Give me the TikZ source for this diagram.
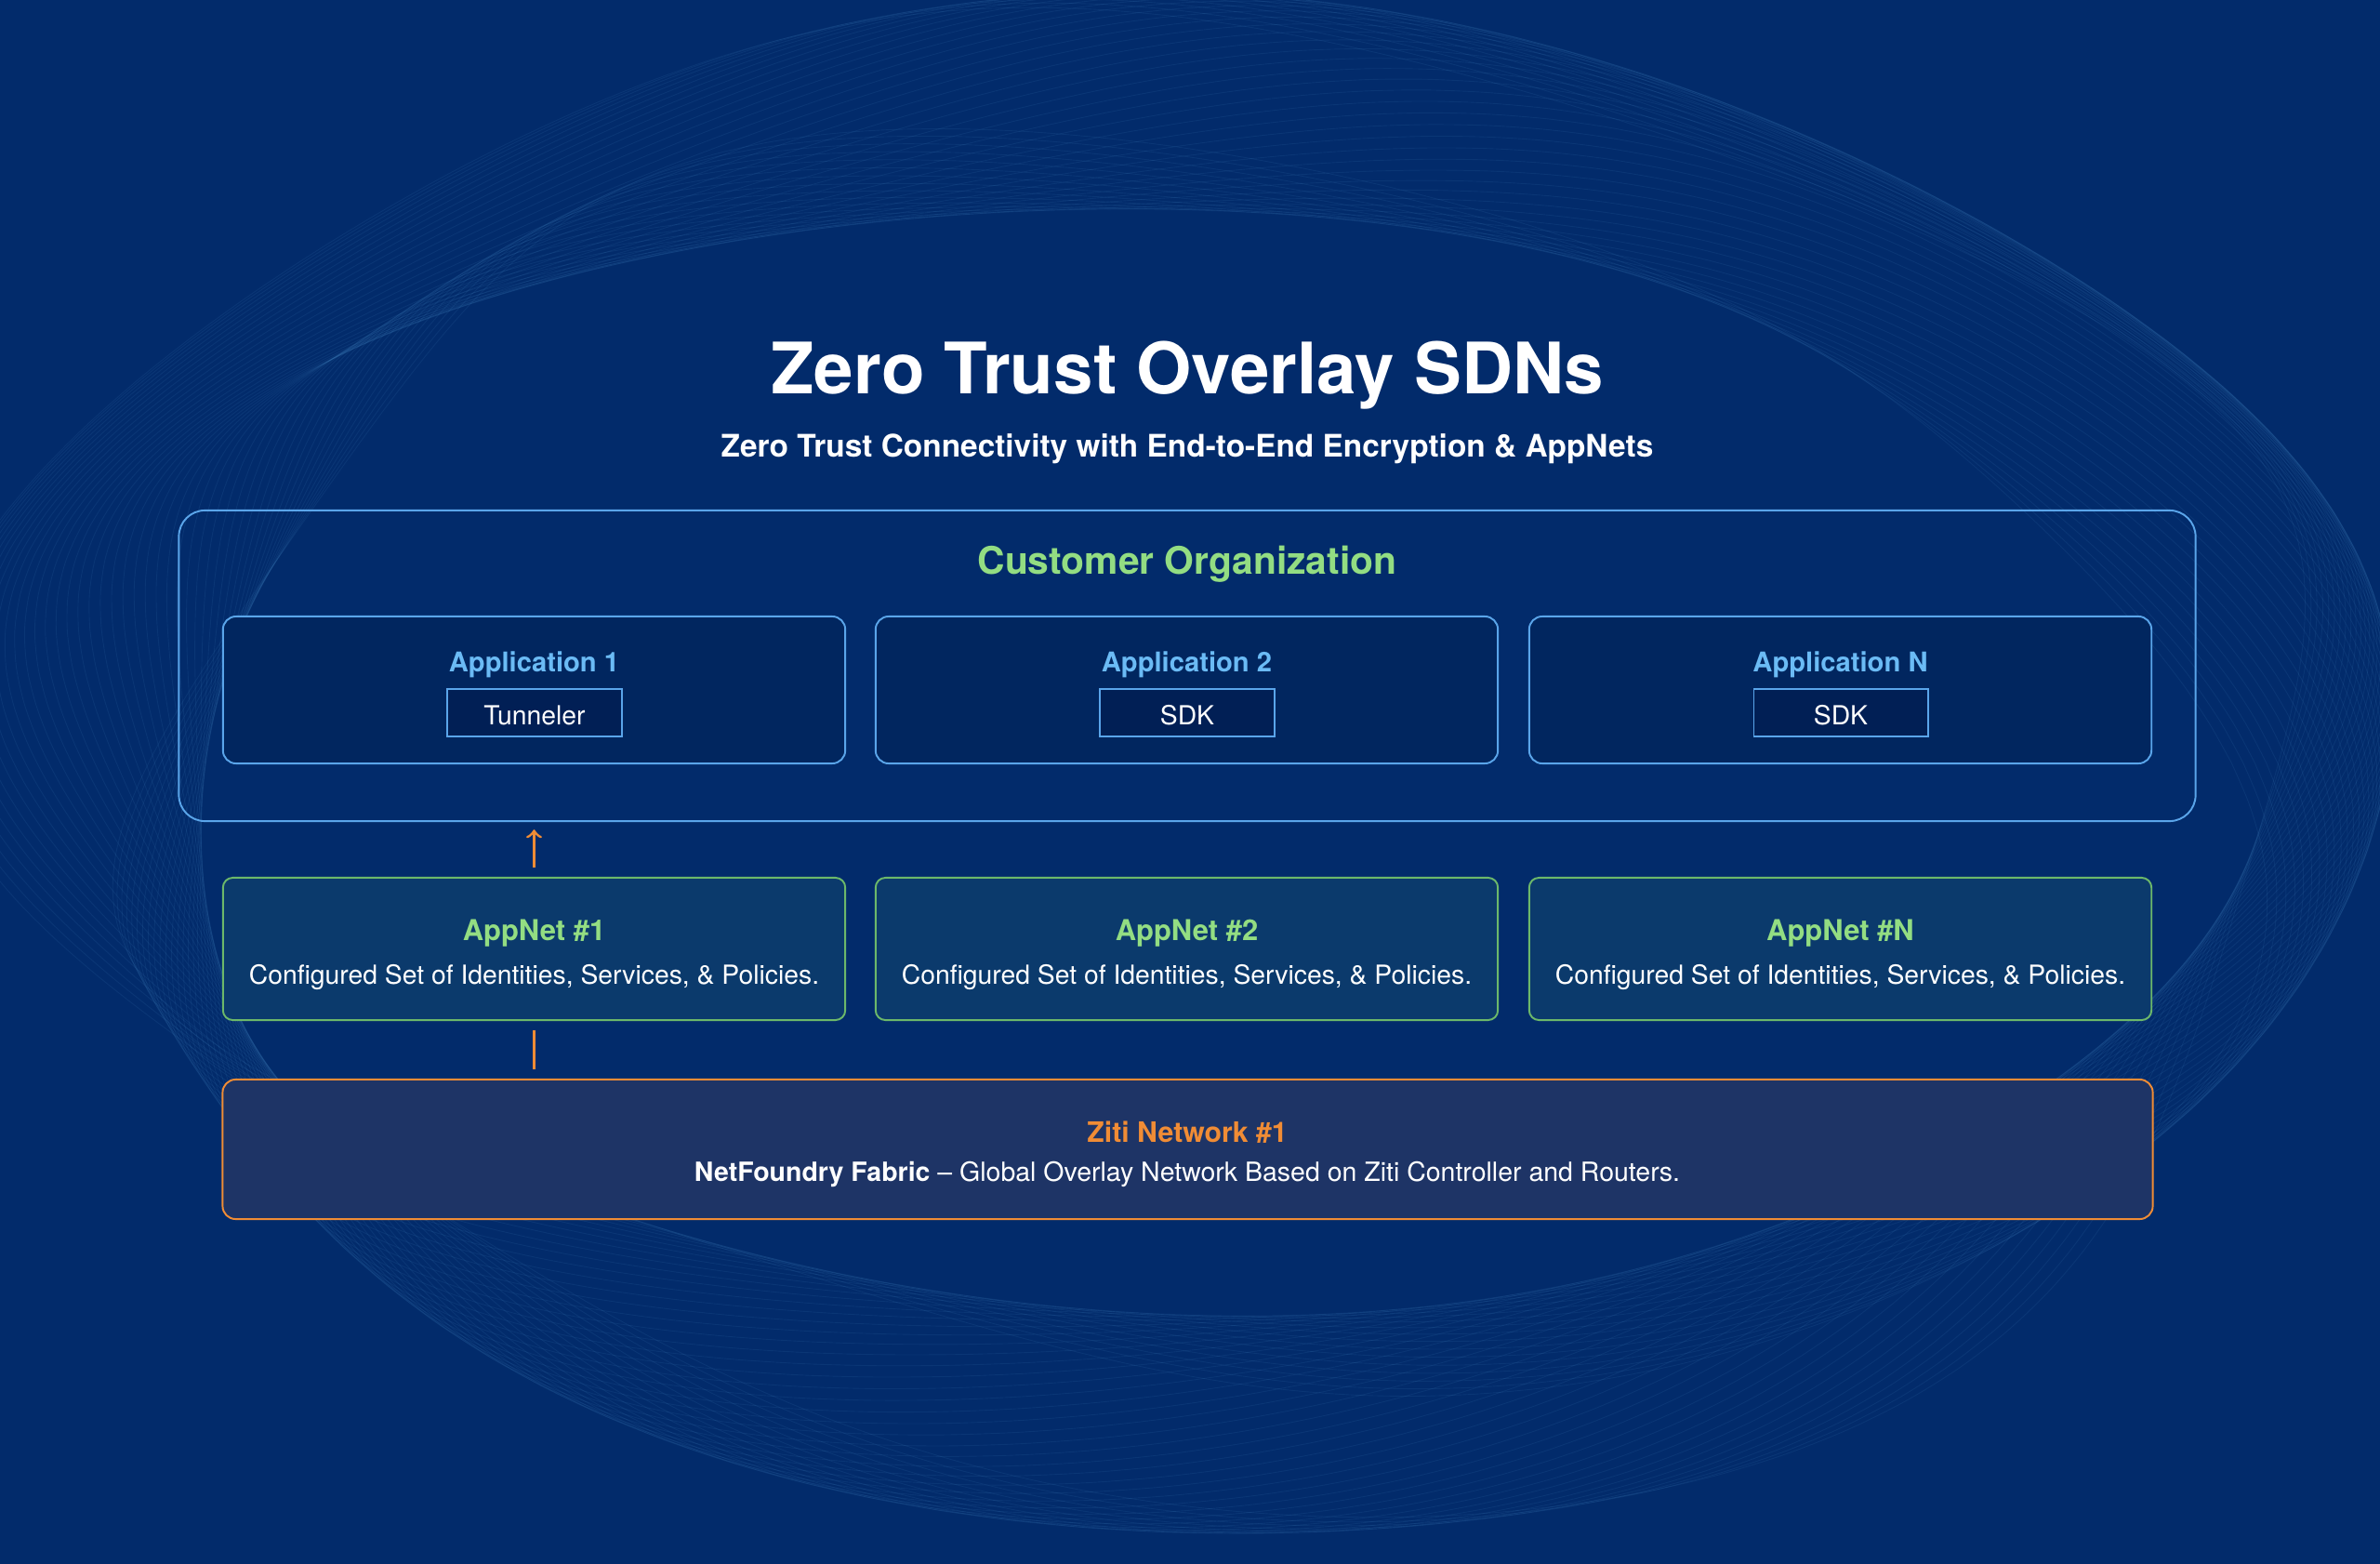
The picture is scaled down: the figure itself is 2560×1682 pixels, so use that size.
\documentclass[tikz,border=0pt]{standalone}
\usepackage{fontspec}
\setmainfont{TeX Gyre Heros}
\usepackage{tikz}
\definecolor{bgblue}{HTML}{022B6B}
\definecolor{appfill}{HTML}{01265F}
\definecolor{tagfill}{HTML}{011F55}
\definecolor{netfill}{HTML}{0B3A6C}
\definecolor{zitifill}{HTML}{1E3466}
\definecolor{lineblue}{HTML}{5AA5EA}
\definecolor{textblue}{HTML}{6BBBF5}
\definecolor{netgreen}{HTML}{6CB86A}
\definecolor{textgreen}{HTML}{93DD82}
\definecolor{zitiorange}{HTML}{F08C35}
\tikzset{
  wave/.style={draw=textblue, line width=0.25pt, opacity=0.08},
  custbox/.style={draw=lineblue, line width=0.55pt, rounded corners=8pt, minimum width=21.68cm, minimum height=3.34cm},
  appbox/.style={draw=lineblue, line width=0.55pt, fill=appfill, rounded corners=4pt, minimum width=6.69cm, minimum height=1.58cm},
  tagbox/.style={draw=lineblue, line width=0.55pt, fill=tagfill, minimum width=1.87cm, minimum height=0.51cm, inner sep=0pt},
  netbox/.style={draw=netgreen, line width=0.55pt, fill=netfill, rounded corners=3pt, minimum width=6.69cm, minimum height=1.53cm},
  zitibox/.style={draw=zitiorange, line width=0.55pt, fill=zitifill, rounded corners=4pt, minimum width=20.75cm, minimum height=1.50cm},
  txt/.style={anchor=base, inner sep=0pt, text=white, font=\fontsize{8.05}{10}\selectfont},
  head/.style={txt, font=\fontsize{8.6}{10}\selectfont\bfseries},
  link/.style={draw=zitiorange, line width=0.8pt}
}
\begin{document}
\begin{tikzpicture}[x=0.01cm,y=-0.01cm]
  \fill[bgblue] (0,0) rectangle (2560,1682);
  \useasboundingbox (0,0) rectangle (2560,1682);
  \begin{scope}
    \clip (0,0) rectangle (2560,1682);
    \foreach \k in {0,...,47}{
      \draw[wave] plot[domain=0:360, samples=100, smooth]
        ({1280+(1120+3*\k+110*sin(3*\x+5*\k))*cos(\x)},{820+(660+2*\k+90*sin(2*\x+7*\k))*sin(\x)});
    }
  \end{scope}

  \node[txt, font=\fontsize{21.7}{24}\selectfont\bfseries] (title) at (1277,423) {Zero Trust Overlay SDNs};
  \node[head, font=\fontsize{9.5}{11}\selectfont\bfseries] (subtitle) at (1277,491) {Zero Trust Connectivity with End-to-End Encryption \& AppNets};

  \node[custbox] (cust) at (1277,716) {};
  \node[head, text=textgreen, font=\fontsize{11.6}{12}\selectfont\bfseries] (custlabel) at (1277,617) {Customer Organization};

  \node[appbox] (app1) at (574.5,742) {};
  \node[appbox] (app2) at (1276.5,742) {};
  \node[appbox] (app3) at (1979.5,742) {};
  \node[head, text=textblue, font=\fontsize{8.3}{10}\selectfont\bfseries] at (574.5,722) {Application 1};
  \node[head, text=textblue, font=\fontsize{8.3}{10}\selectfont\bfseries] at (1276.5,722) {Application 2};
  \node[head, text=textblue, font=\fontsize{8.3}{10}\selectfont\bfseries] at (1979.5,722) {Application N};
  \node[tagbox] (tag1) at (575,766.5) {};
  \node[tagbox] (tag2) at (1277,766.5) {};
  \node[tagbox] (tag3) at (1980,766.5) {};
  \node[txt] at (575,779) {Tunneler};
  \node[txt] at (1277,779) {SDK};
  \node[txt] at (1980,779) {SDK};

  \node[netbox] (net1) at (574.5,1020.5) {};
  \node[netbox] (net2) at (1276.5,1020.5) {};
  \node[netbox] (net3) at (1979.5,1020.5) {};
  \foreach \n/\xx in {1/574.5,2/1276.5,N/1979.5}{
    \node[head, text=textgreen, font=\fontsize{8.8}{10}\selectfont\bfseries] at (\xx,1011) {AppNet \#\n};
    \node[txt] at (\xx,1058) {Configured Set of Identities, Services, \& Policies.};
  }

  \node[zitibox] (ziti) at (1277.5,1236) {};
  \node[head, text=zitiorange] (zitilabel) at (1277,1228) {Ziti Network \#1};
  \node[txt, font=\fontsize{8.1}{10}\selectfont] (fabric) at (1277,1270) {\textbf{NetFoundry Fabric} -- Global Overlay Network Based on Ziti Controller and Routers.};

  \draw[link, ->, shorten <=2.8pt, shorten >=2.3pt] (net1.north) -- (net1.north |- cust.south);
  \draw[link, shorten <=2.8pt, shorten >=2.8pt] (net1.south) -- (net1.south |- ziti.north);
\end{tikzpicture}
\end{document}
